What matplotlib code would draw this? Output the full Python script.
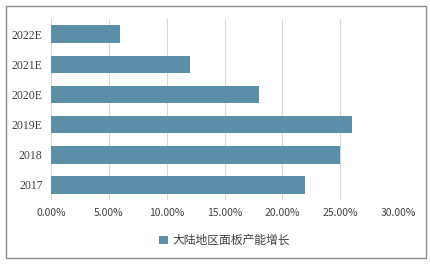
import matplotlib.pyplot as plt
from matplotlib.patches import Rectangle
from matplotlib.ticker import FuncFormatter

plt.rcParams['font.family'] = ['Noto Sans CJK SC', 'DejaVu Sans']

anos = ["2017", "2018", "2019E", "2020E", "2021E", "2022E"]
crescimento = [0.22, 0.25, 0.26, 0.18, 0.12, 0.06]
ticks_x = [0.0, 0.05, 0.10, 0.15, 0.20, 0.25, 0.30]
legenda = "大陆地区面板产能增长"

fig = plt.figure(figsize=(4.3, 2.68), dpi=100)
ax = fig.add_axes([0.1186, 0.2537, 0.8070, 0.6753])

ax.barh(range(len(anos)), crescimento, height=0.58, color="#5b8fa8",
        label=legenda, zorder=3)

ax.set_xlim(0, 0.30)
ax.set_ylim(-0.5, len(anos) - 0.5)
ax.set_xticks(ticks_x)
ax.xaxis.set_major_formatter(FuncFormatter(lambda v, p: f"{v * 100:.2f}%"))
ax.set_yticks(range(len(anos)))
ax.set_yticklabels(anos, family=["Liberation Serif", "DejaVu Serif"], fontsize=8.5,
                   color="#404040")
for t in ax.get_xticklabels():
    t.set_fontsize(7.5)
    t.set_color("#404040")
ax.tick_params(length=0, pad=6)
ax.grid(axis="x", color="#d9d9d9", linewidth=0.8, zorder=0)
for s in ax.spines.values():
    s.set_visible(False)

ax.legend(loc="upper center", bbox_to_anchor=(0.5, -0.13), frameon=False,
          fontsize=8.5, handlelength=0.7, handleheight=0.7, handletextpad=0.4,
          labelcolor="#404040")

fig.patches.append(Rectangle((6 / 430, 10 / 268), 420 / 430, 252 / 268,
                             transform=fig.transFigure, fill=False,
                             edgecolor="#8c8c8c", linewidth=1.0))

fig.savefig("out.png", dpi=100)
